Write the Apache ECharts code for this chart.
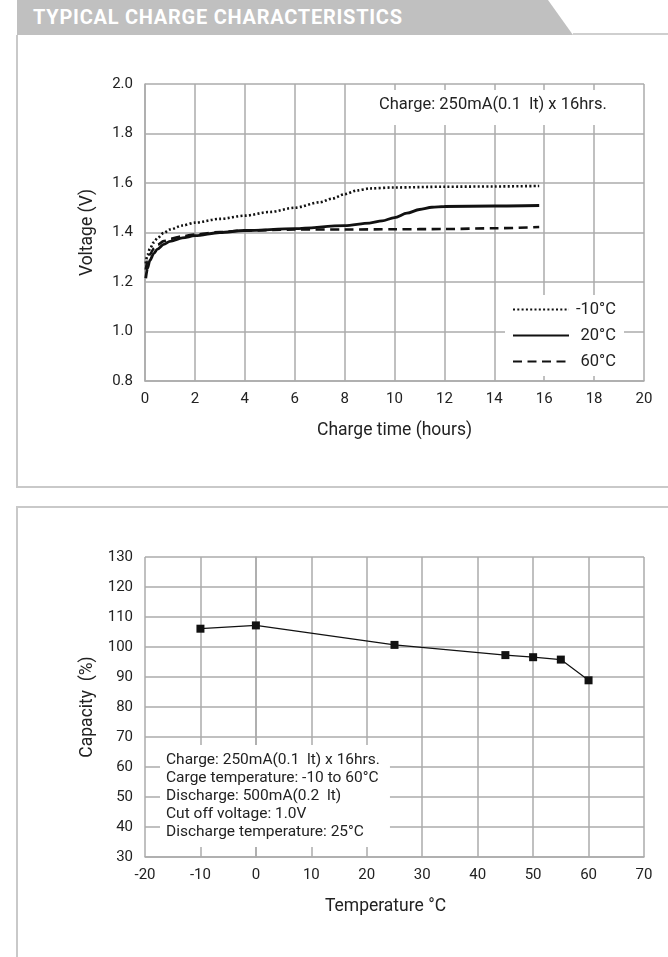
<!DOCTYPE html>
<html>
<head>
<meta charset="utf-8">
<script src="https://cdn.jsdelivr.net/npm/echarts@6/dist/echarts.min.js"></script>
<style>
  html, body { margin: 0; padding: 0; background: #fff; }
  body { width: 668px; height: 957px; position: relative; overflow: hidden; font-family: Roboto, sans-serif; }
  #hdr { position: absolute; left: 17px; top: 0; width: 556px; height: 35px; background: #c0c0c0;
         clip-path: polygon(0 0, 531px 0, 100% 100%, 0 100%); }
  #hdrText { position: absolute; left: 33px; top: 0; height: 35px; line-height: 35px; color: #fff;
             font-weight: bold; font-size: 20px; white-space: nowrap; }
  #hdrLine { position: absolute; left: 573px; top: 33px; width: 95px; height: 2px; background: #cfcfcf; }
  .bl { position: absolute; background: #c9c9c9; }
  #chart { position: absolute; left: 0; top: 0; width: 668px; height: 957px; }
</style>
</head>
<body>
<div id="hdr"></div>
<div id="hdrText">TYPICAL CHARGE CHARACTERISTICS</div>
<div id="hdrLine"></div>
<div class="bl" style="left:16px;top:35px;width:2px;height:453px;"></div>
<div class="bl" style="left:16px;top:486px;width:652px;height:2px;"></div>
<div class="bl" style="left:16px;top:506px;width:652px;height:2px;"></div>
<div class="bl" style="left:16px;top:506px;width:2px;height:451px;"></div>
<div id="chart"></div>
<script>
// ---- Chart 1: typical charge characteristics ----
const chargeTicksX = [0, 2, 4, 6, 8, 10, 12, 14, 16, 18, 20];
const voltageTicksY = [0.8, 1.0, 1.2, 1.4, 1.6, 1.8, 2.0];

const timeCold = [0.03, 0.1, 0.2, 0.35, 0.5, 0.75, 1.0, 1.5, 2, 3, 4, 5, 6, 7, 7.5, 8, 8.5, 9, 10, 12, 14, 15.8];
const voltCold = [1.275, 1.310, 1.335, 1.360, 1.378, 1.398, 1.412, 1.428, 1.440, 1.455, 1.468, 1.483, 1.500, 1.522, 1.537, 1.555, 1.570, 1.578, 1.582, 1.585, 1.586, 1.588];

const time20 = [0.03, 0.1, 0.2, 0.35, 0.5, 0.75, 1.0, 1.5, 2, 3, 4, 6, 8, 9, 9.5, 10, 10.5, 11, 11.5, 12, 14, 15.8];
const volt20 = [1.215, 1.255, 1.288, 1.315, 1.333, 1.352, 1.364, 1.378, 1.387, 1.400, 1.408, 1.416, 1.428, 1.438, 1.447, 1.460, 1.478, 1.493, 1.502, 1.505, 1.507, 1.509];

const time60 = [0.03, 0.1, 0.2, 0.35, 0.5, 0.75, 1.0, 1.5, 2, 3, 4, 6, 8, 10, 12, 14, 15.8];
const volt60 = [1.250, 1.285, 1.312, 1.335, 1.350, 1.365, 1.374, 1.385, 1.392, 1.402, 1.408, 1.412, 1.412, 1.413, 1.414, 1.417, 1.422];

const seriesNames = ['-10°C', '20°C', '60°C'];
const chargeNote = 'Charge: 250mA(0.1  lt) x 16hrs.';

// ---- Chart 2: capacity vs temperature ----
const tempX = [-10, 0, 25, 45, 50, 55, 60];
const capacityY = [106.1, 107.2, 100.7, 97.3, 96.6, 95.8, 88.9];
const tempTicksX = [-20, -10, 0, 10, 20, 30, 40, 50, 60, 70];
const capTicksY = [30, 40, 50, 60, 70, 80, 90, 100, 110, 120, 130];
const capNoteLines = [
  'Charge: 250mA(0.1  lt) x 16hrs.',
  'Carge temperature: -10 to 60°C',
  'Discharge: 500mA(0.2  lt)',
  'Cut off voltage: 1.0V',
  'Discharge temperature: 25°C'
];

// header letter-spacing fit
(function () {
  const el = document.getElementById('hdrText');
  const c = document.createElement('canvas').getContext('2d');
  c.font = 'bold 20px Roboto';
  const txt = el.textContent;
  const w = c.measureText(txt).width;
  const ls = (369 - w) / (txt.length - 1);
  el.style.letterSpacing = ls + 'px';
})();

const zip = (a, b) => a.map((v, i) => [v, b[i]]);
const GRID_C = '#ababab';
const TXT_C = '#222';

function axisCommon(extra) {
  return Object.assign({
    type: 'value',
    axisLine: { show: true, lineStyle: { color: GRID_C, width: 1.5 } },
    axisTick: { show: false },
    splitLine: { show: true, lineStyle: { color: GRID_C, width: 1.5 } },
    nameLocation: 'middle',
    nameTextStyle: { fontSize: 17.5, color: TXT_C, fontFamily: 'Roboto' }
  }, extra);
}

const chart = echarts.init(document.getElementById('chart'), null, { renderer: 'canvas' });
chart.setOption({
  animation: false,
  textStyle: { fontFamily: 'Roboto' },
  grid: [
    { left: 145, right: 24, top: 84, height: 297 },
    { left: 145, right: 24, top: 557, height: 300 }
  ],
  xAxis: [
    axisCommon({
      gridIndex: 0, min: chargeTicksX[0], max: chargeTicksX[chargeTicksX.length - 1], interval: 2,
      axisLabel: { fontSize: 15, color: TXT_C, margin: 11 },
      name: 'Charge time (hours)', nameGap: 41
    }),
    axisCommon({
      gridIndex: 1, min: tempTicksX[0], max: tempTicksX[tempTicksX.length - 1], interval: 10,
      axisLabel: { fontSize: 15, color: TXT_C, margin: 11 },
      name: 'Temperature °C', nameGap: 41,
      nameTextStyle: { fontSize: 17.5, color: TXT_C, fontFamily: 'Roboto', padding: [0, 18, 0, 0] }
    })
  ],
  yAxis: [
    axisCommon({
      gridIndex: 0, min: voltageTicksY[0], max: voltageTicksY[voltageTicksY.length - 1], interval: 0.2,
      axisLabel: { fontSize: 15, color: TXT_C, margin: 12, formatter: v => v.toFixed(1) },
      name: 'Voltage (V)', nameGap: 48
    }),
    axisCommon({
      gridIndex: 1, min: capTicksY[0], max: capTicksY[capTicksY.length - 1], interval: 10,
      axisLabel: { fontSize: 15, color: TXT_C, margin: 12 },
      name: 'Capacity  (%)', nameGap: 48
    })
  ],
  title: [
    {
      text: chargeNote, left: 366, top: 90, backgroundColor: '#fff',
      padding: [5, 12, 10, 13],
      textStyle: { fontSize: 16.5, fontWeight: 'normal', color: TXT_C, lineHeight: 20, fontFamily: 'Roboto' }
    },
    {
      text: capNoteLines.join('\n'), left: 160, top: 745, backgroundColor: '#fff',
      padding: [6, 10, 6, 6],
      textStyle: { fontSize: 15.5, fontWeight: 'normal', color: TXT_C, lineHeight: 18, fontFamily: 'Roboto' }
    }
  ],
  legend: {
    data: seriesNames,
    orient: 'vertical',
    left: 505, top: 295,
    backgroundColor: '#fff',
    padding: [6, 8, 6, 7],
    itemWidth: 56, itemHeight: 14, itemGap: 9,
    selectedMode: false,
    itemStyle: { opacity: 0 },
    formatter: n => '{a|' + n + '}',
    textStyle: {
      color: TXT_C, fontSize: 16.5,
      rich: { a: { width: 42, align: 'right', fontSize: 16.5, color: TXT_C, fontFamily: 'Roboto' } }
    }
  },
  series: [
    {
      name: seriesNames[0], type: 'line', xAxisIndex: 0, yAxisIndex: 0,
      data: zip(timeCold, voltCold), symbol: 'none', showSymbol: false,
      smooth: 0.3, smoothMonotone: 'x',
      lineStyle: { color: '#111', width: 2.6, type: [2, 2.3] }, itemStyle: { color: '#111' }
    },
    {
      name: seriesNames[1], type: 'line', xAxisIndex: 0, yAxisIndex: 0,
      data: zip(time20, volt20), symbol: 'none', showSymbol: false,
      smooth: 0.3, smoothMonotone: 'x',
      lineStyle: { color: '#111', width: 2.8, type: 'solid' }, itemStyle: { color: '#111' }
    },
    {
      name: seriesNames[2], type: 'line', xAxisIndex: 0, yAxisIndex: 0,
      data: zip(time60, volt60), symbol: 'none', showSymbol: false,
      smooth: 0.3, smoothMonotone: 'x',
      lineStyle: { color: '#111', width: 2.6, type: [9, 5.5] }, itemStyle: { color: '#111' }
    },
    {
      name: 'Capacity', type: 'line', xAxisIndex: 1, yAxisIndex: 1,
      data: zip(tempX, capacityY), symbol: 'rect', symbolSize: 8,
      lineStyle: { color: '#111', width: 1.2 }, itemStyle: { color: '#111' }
    }
  ]
});
</script>
</body>
</html>
